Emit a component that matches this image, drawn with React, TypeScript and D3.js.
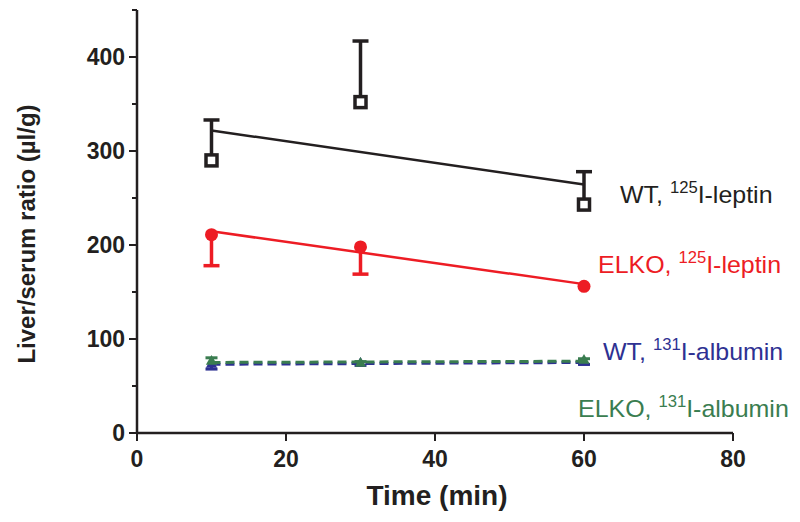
import React from 'react';
import * as d3 from 'd3';

// time points (min)
const times = [10, 30, 60];

// WT, 125I-leptin (open squares, upper error bars)
const wtLeptin = [290, 352, 243];
const wtLeptinErr = [43, 65, 35];

// ELKO, 125I-leptin (filled circles, lower error bars)
const elkoLeptin = [211, 198, 156];
const elkoLeptinErr = [33, 29, 0];

// WT / ELKO, 131I-albumin (triangles, dashed)
const wtAlbumin = [73, 74, 75];
const wtAlbuminErr = [5, 2, 2];
const elkoAlbumin = [76, 74, 77];
const elkoAlbuminErr = [4, 2, 2];

const xTicks = [0, 20, 40, 60, 80];
const yTicks = [0, 100, 200, 300, 400];
const yMinorTicks = [50, 150, 250, 350, 450];

const BLACK = '#231f20';
const RED = '#ed1c24';
const BLUE = '#2e3192';
const GREEN = '#3a7d50';

const FONT = 'Liberation Sans, Arial, sans-serif';

// simple least squares fit through the means
const fit = (xs: number[], ys: number[]) => {
  const mx = d3.mean(xs) as number;
  const my = d3.mean(ys) as number;
  const sxy = d3.sum(xs, (x, i) => (x - mx) * (ys[i] - my));
  const sxx = d3.sum(xs, x => (x - mx) * (x - mx));
  const slope = sxy / sxx;
  return (x: number) => my + slope * (x - mx);
};

const App: React.FC = () => {
  const x = d3.scaleLinear().domain([0, 80]).range([137, 733]);
  const y = d3.scaleLinear().domain([0, 450]).range([433, 10]);

  const x0 = times[0];
  const x1 = times[times.length - 1];

  const line = d3.line<[number, number]>()
    .x(d => x(d[0]))
    .y(d => y(d[1]));

  const fitLine = (vals: number[]) => {
    const f = fit(times, vals);
    return line([[x0, f(x0)], [x1, f(x1)]]) as string;
  };

  const tri = d3.symbol().type(d3.symbolTriangle).size(55)() as string;

  const legend = (
    tx: number, ty: number, color: string, pre: string, sup: string, post: string
  ) => (
    <text transform={`translate(${tx},${ty}) scale(1.04,1)`} fill={color} fontFamily={FONT} fontSize={24}>
      {pre}
      <tspan fontSize={16} dy={-10}>{sup}</tspan>
      <tspan dy={10}>{post}</tspan>
    </text>
  );

  return (
    <svg width={800} height={522} style={{ position: 'absolute', left: 0, top: 0, background: '#fff' }}>
      {/* axes */}
      <line x1={x(0)} x2={x(0)} y1={y(0)} y2={y(450)} stroke={BLACK} strokeWidth={2.5} />
      <line x1={x(0)} x2={x(80)} y1={y(0)} y2={y(0)} stroke={BLACK} strokeWidth={2.5} />
      {yTicks.map(t => (
        <g key={'y' + t}>
          <line x1={x(0) - 8} x2={x(0)} y1={y(t)} y2={y(t)} stroke={BLACK} strokeWidth={2} />
          <text x={125} y={y(t)} dy={8} textAnchor="end" fontFamily={FONT} fontWeight="bold" fontSize={23} fill={BLACK}>{t}</text>
        </g>
      ))}
      {yMinorTicks.map(t => (
        <line key={'m' + t} x1={x(0) - 5} x2={x(0)} y1={y(t)} y2={y(t)} stroke={BLACK} strokeWidth={2} />
      ))}
      {xTicks.map(t => (
        <g key={'x' + t}>
          <line x1={x(t)} x2={x(t)} y1={y(0)} y2={y(0) + 8} stroke={BLACK} strokeWidth={2} />
          <text x={x(t)} y={467} textAnchor="middle" fontFamily={FONT} fontWeight="bold" fontSize={23} fill={BLACK}>{t}</text>
        </g>
      ))}
      <text x={437} y={505} textAnchor="middle" fontFamily={FONT} fontWeight="bold" fontSize={28} fill={BLACK}>Time (min)</text>
      <text transform={`translate(35,234) rotate(-90)`} textAnchor="middle" fontFamily={FONT} fontWeight="bold" fontSize={24} fill={BLACK}>Liver/serum ratio (µl/g)</text>

      {/* albumin series */}
      <path d={fitLine(wtAlbumin)} stroke={BLUE} strokeWidth={3} strokeDasharray="9,5" fill="none" />
      <path d={fitLine(elkoAlbumin)} stroke={GREEN} strokeWidth={3} strokeDasharray="9,5" fill="none" />
      {times.map((t, i) => (
        <g key={'alb' + t}>
          <line x1={x(t)} x2={x(t)} y1={y(wtAlbumin[i] - wtAlbuminErr[i])} y2={y(wtAlbumin[i])} stroke={BLUE} strokeWidth={3} />
          <line x1={x(t) - 6} x2={x(t) + 6} y1={y(wtAlbumin[i] - wtAlbuminErr[i])} y2={y(wtAlbumin[i] - wtAlbuminErr[i])} stroke={BLUE} strokeWidth={3} />
          <path d={tri} transform={`translate(${x(t)},${y(wtAlbumin[i])})`} fill={BLUE} />
          <line x1={x(t)} x2={x(t)} y1={y(elkoAlbumin[i] + elkoAlbuminErr[i])} y2={y(elkoAlbumin[i])} stroke={GREEN} strokeWidth={3} />
          <line x1={x(t) - 6} x2={x(t) + 6} y1={y(elkoAlbumin[i] + elkoAlbuminErr[i])} y2={y(elkoAlbumin[i] + elkoAlbuminErr[i])} stroke={GREEN} strokeWidth={3} />
          <path d={tri} transform={`translate(${x(t)},${y(elkoAlbumin[i])})`} fill={GREEN} />
        </g>
      ))}

      {/* ELKO leptin */}
      <path d={fitLine(elkoLeptin)} stroke={RED} strokeWidth={2.5} fill="none" />
      {times.map((t, i) => (
        <g key={'el' + t}>
          {elkoLeptinErr[i] > 0 && (
            <>
              <line x1={x(t)} x2={x(t)} y1={y(elkoLeptin[i])} y2={y(elkoLeptin[i] - elkoLeptinErr[i])} stroke={RED} strokeWidth={3.5} />
              <line x1={x(t) - 8} x2={x(t) + 8} y1={y(elkoLeptin[i] - elkoLeptinErr[i])} y2={y(elkoLeptin[i] - elkoLeptinErr[i])} stroke={RED} strokeWidth={3.5} />
            </>
          )}
          <circle cx={x(t)} cy={y(elkoLeptin[i])} r={6.5} fill={RED} />
        </g>
      ))}

      {/* WT leptin */}
      <path d={fitLine(wtLeptin)} stroke={BLACK} strokeWidth={2.5} fill="none" />
      {times.map((t, i) => (
        <g key={'wl' + t}>
          <line x1={x(t)} x2={x(t)} y1={y(wtLeptin[i]) - 6} y2={y(wtLeptin[i] + wtLeptinErr[i])} stroke={BLACK} strokeWidth={3.5} />
          <line x1={x(t) - 8} x2={x(t) + 8} y1={y(wtLeptin[i] + wtLeptinErr[i])} y2={y(wtLeptin[i] + wtLeptinErr[i])} stroke={BLACK} strokeWidth={3.5} />
          <rect x={x(t) - 5.5} y={y(wtLeptin[i]) - 5.5} width={11} height={11} fill="#fff" stroke={BLACK} strokeWidth={3.5} />
        </g>
      ))}

      {/* labels */}
      {legend(620, 203, BLACK, 'WT, ', '125', 'I-leptin')}
      {legend(598, 273, RED, 'ELKO, ', '125', 'I-leptin')}
      {legend(603, 360, BLUE, 'WT, ', '131', 'I-albumin')}
      {legend(578, 417, GREEN, 'ELKO, ', '131', 'I-albumin')}
    </svg>
  );
};

export default App;
